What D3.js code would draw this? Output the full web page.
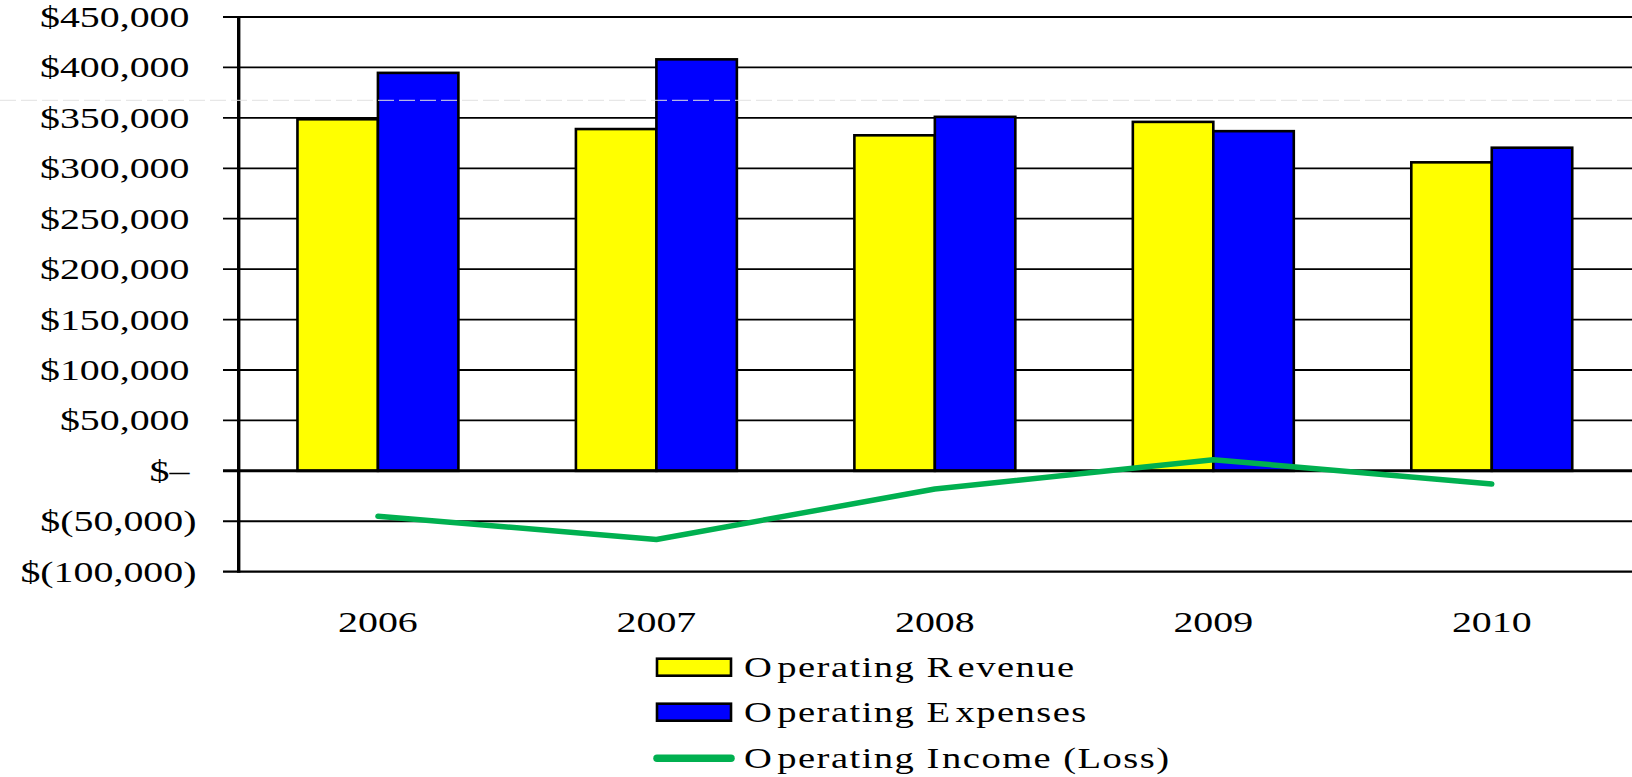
<!DOCTYPE html>
<html>
<head>
<meta charset="utf-8">
<script src="https://cdn.jsdelivr.net/npm/d3@7"></script>
<style>
  html, body { margin: 0; padding: 0; background: #fff; }
  svg { display: block; }
  text { font-family: "Liberation Serif", "Times New Roman", serif; fill: #000; }
</style>
</head>
<body>
<svg id="chart" width="1632" height="777"></svg>
<script>
const years = ["2006", "2007", "2008", "2009", "2010"];
const revenue = [348600, 338900, 332700, 346000, 305900];
const expenses = [394600, 408000, 351000, 336800, 320400];
const income = [-45000, -68000, -18000, 11000, -13000];
const yTicks = [450000, 400000, 350000, 300000, 250000, 200000, 150000, 100000, 50000, 0, -50000, -100000];
const yTickLabels = ["$450,000", "$400,000", "$350,000", "$300,000", "$250,000", "$200,000", "$150,000", "$100,000", "$50,000", "$\u2013", "$(50,000)", "$(100,000)"];
const seriesNames = ["Operating Revenue", "Operating Expenses", "Operating Income (Loss)"];
const seriesColors = ["#FFFF00", "#0000FF", "#00B050"];

(function () {
const W = 1632, H = 777;
const pLeft = 238.7, pRight = 1631, pTop = 17, pBottom = 571.7;
const SX = 1.33;

const svg = d3.select("#chart");

const x = d3.scaleBand().domain(years).range([pLeft, pRight]).paddingInner(0.422).paddingOuter(0.211);
const xs = d3.scaleBand().domain(["rev", "exp"]).range([0, x.bandwidth()]);
const y = d3.scaleLinear().domain([-100000, 450000]).range([pBottom, pTop]);

// gridlines (extend left of axis as tick marks)
svg.append("g").selectAll("line").data(yTicks).join("line")
  .attr("x1", 223).attr("x2", W)
  .attr("y1", d => y(d)).attr("y2", d => y(d))
  .attr("stroke", "#000")
  .attr("stroke-width", d => (d === 450000 || d === -100000) ? 2.2 : 1.8);

// y tick labels
svg.append("g").selectAll("text").data(yTicks).join("text")
  .attr("transform", (d, i) => `translate(${yTickLabels[i].includes(")") ? 196.5 : 189.5},${y(d) + 10}) scale(${SX},1)`)
  .attr("text-anchor", "end")
  .attr("font-size", 30)
  .text((d, i) => yTickLabels[i]);

// bars
const groups = svg.append("g").selectAll("g").data(years).join("g")
  .attr("transform", d => `translate(${x(d)},0)`);
groups.append("rect")
  .attr("x", xs("rev")).attr("width", xs.bandwidth())
  .attr("y", (d, i) => y(revenue[i])).attr("height", (d, i) => y(0) - y(revenue[i]))
  .attr("fill", seriesColors[0]).attr("stroke", "#000").attr("stroke-width", 2.6);
groups.append("rect")
  .attr("x", xs("exp")).attr("width", xs.bandwidth())
  .attr("y", (d, i) => y(expenses[i])).attr("height", (d, i) => y(0) - y(expenses[i]))
  .attr("fill", seriesColors[1]).attr("stroke", "#000").attr("stroke-width", 2.6);

// zero line and y axis line
svg.append("line").attr("x1", 223).attr("x2", W).attr("y1", y(0)).attr("y2", y(0))
  .attr("stroke", "#000").attr("stroke-width", 3);
svg.append("line").attr("x1", pLeft).attr("x2", pLeft).attr("y1", pTop - 1).attr("y2", pBottom + 1)
  .attr("stroke", "#000").attr("stroke-width", 3.4);

// income line
const line = d3.line().x((d, i) => x(years[i]) + x.bandwidth() / 2).y(d => y(d));
svg.append("path").datum(income).attr("d", line)
  .attr("fill", "none").attr("stroke", seriesColors[2]).attr("stroke-width", 5.5)
  .attr("stroke-linecap", "round").attr("stroke-linejoin", "round");

// faint scan artifact line
svg.append("line").attr("x1", 0).attr("x2", W).attr("y1", 100.3).attr("y2", 100.3)
  .attr("stroke", "#e2e2e2").attr("stroke-width", 1).attr("stroke-dasharray", "16,5");

// x labels
svg.append("g").selectAll("text").data(years).join("text")
  .attr("transform", d => `translate(${x(d) + x.bandwidth() / 2},632.3) scale(${SX},1)`)
  .attr("text-anchor", "middle")
  .attr("font-size", 30)
  .text(d => d);

// legend
const legendRows = [676.7, 721.7, 768];
const lg = svg.append("g").selectAll("g").data(seriesNames).join("g");
lg.each(function (name, i) {
  const g = d3.select(this);
  const yb = legendRows[i];
  if (i < 2) {
    g.append("rect").attr("x", 657).attr("y", yb - 18).attr("width", 74).attr("height", 17)
      .attr("fill", seriesColors[i]).attr("stroke", "#000").attr("stroke-width", 2.6);
  } else {
    g.append("line").attr("x1", 657).attr("x2", 731).attr("y1", yb - 9.7).attr("y2", yb - 9.7)
      .attr("stroke", seriesColors[i]).attr("stroke-width", 7.5).attr("stroke-linecap", "round");
  }
  const t = g.append("text")
    .attr("transform", `translate(744,${yb}) scale(${SX},1)`)
    .attr("font-size", 29)
    .attr("letter-spacing", 1.1);
  name.split(" ").forEach((word, wi) => {
    const first = word[0];
    const rest = word.slice(1);
    t.append("tspan").text((wi === 0 ? "" : " ") + first);
    t.append("tspan").attr("dx", /[A-Z]/.test(first) ? (first === "I" ? 1 : 3) : 0).text(rest);
  });
});
})();
</script>
</body>
</html>
